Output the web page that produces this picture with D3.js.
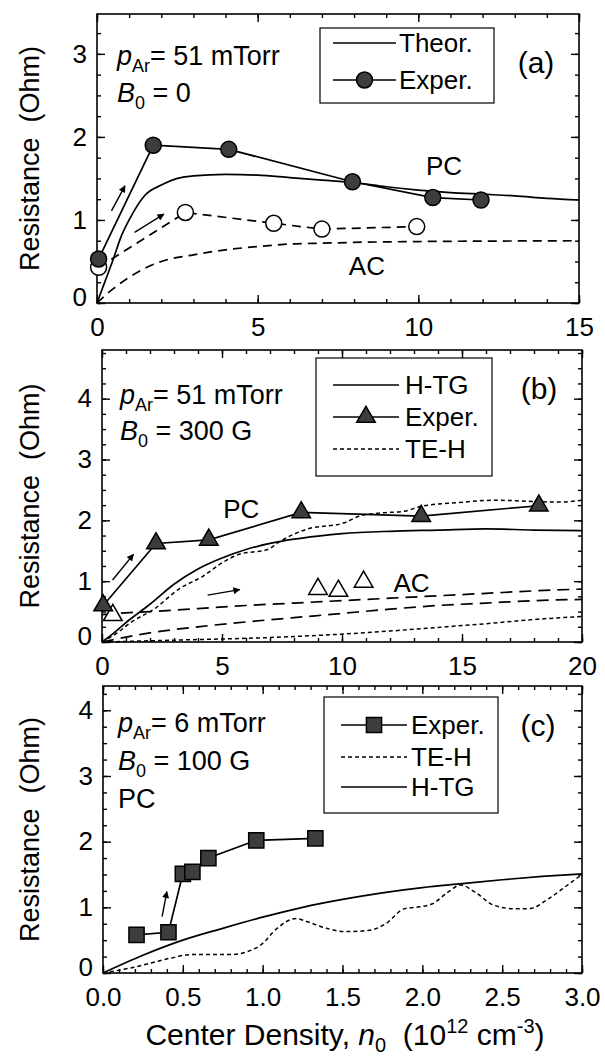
<!DOCTYPE html>
<html><head><meta charset="utf-8">
<script src="https://cdn.jsdelivr.net/npm/d3@7"></script>
<style>
body{margin:0;background:#fff}
svg{display:block}
text{font-family:Arial,"Liberation Sans",sans-serif;fill:#000}
</style>
</head><body>
<svg id="chart" width="605" height="1057"></svg>
<script>
// ---------------- DATA ----------------
// Panel (a): p_Ar = 51 mTorr, B0 = 0
const aXTicks = [0, 5, 10, 15];
const aYTicks = [0, 1, 2, 3];
const aExpPC_x = [0.05, 1.75, 4.1, 7.95, 10.45, 11.95];
const aExpPC_y = [0.53, 1.90, 1.85, 1.46, 1.27, 1.24];
const aExpAC_x = [0.05, 2.75, 5.5, 7.0, 9.95];
const aExpAC_y = [0.43, 1.09, 0.96, 0.89, 0.92];
const aThPC_x = [0, 0.25, 0.5, 0.75, 1, 1.5, 2, 2.5, 3, 4, 5, 6, 7, 8, 9, 10, 11, 12, 13, 14, 15];
const aThPC_y = [0, 0.26, 0.52, 0.80, 1.00, 1.30, 1.42, 1.50, 1.53, 1.55, 1.54, 1.51, 1.48, 1.45, 1.40, 1.36, 1.33, 1.31, 1.29, 1.26, 1.24];
const aThAC_x = [0, 0.25, 0.5, 1, 1.5, 2, 3, 4, 5, 6, 7, 8, 10, 12, 15];
const aThAC_y = [0, 0.09, 0.17, 0.31, 0.42, 0.50, 0.58, 0.64, 0.68, 0.71, 0.72, 0.73, 0.74, 0.745, 0.75];

// Panel (b): p_Ar = 51 mTorr, B0 = 300 G
const bXTicks = [0, 5, 10, 15, 20];
const bYTicks = [0, 1, 2, 3, 4];
const bExpPC_x = [0.05, 2.25, 4.45, 8.3, 13.3, 18.2];
const bExpPC_y = [0.60, 1.62, 1.68, 2.13, 2.07, 2.24];
const bExpAC_x = [0.45, 9.0, 9.85, 10.9];
const bExpAC_y = [0.44, 0.87, 0.84, 0.99];
const bHtgPC_x = [0, 0.5, 1, 2, 3, 4, 5, 6, 7, 8, 9, 10, 12, 14, 16, 18, 20];
const bHtgPC_y = [0, 0.15, 0.32, 0.62, 0.95, 1.20, 1.38, 1.52, 1.62, 1.69, 1.74, 1.78, 1.82, 1.84, 1.86, 1.84, 1.83];
const bTehPC_x = [0, 0.6, 1.2, 2.2, 3.2, 4.2, 5.0, 5.7, 6.9, 7.4, 8.5, 10.1, 10.8, 11.6, 12.6, 13.3, 14.8, 16.4, 18.0, 19.0, 20];
const bTehPC_y = [0, 0.14, 0.32, 0.55, 0.87, 1.08, 1.30, 1.44, 1.52, 1.65, 1.85, 1.96, 2.08, 2.12, 2.15, 2.23, 2.29, 2.33, 2.31, 2.30, 2.33];
const bHtgAC_x = [0, 1, 2, 4, 6, 8, 10, 12, 14, 16, 18, 20];
const bHtgAC_y = [0.45, 0.48, 0.50, 0.55, 0.60, 0.64, 0.68, 0.72, 0.76, 0.80, 0.84, 0.87];
const bHtgAC2_x = [0, 1, 2, 4, 6, 8, 10, 12, 14, 16, 18, 20];
const bHtgAC2_y = [0, 0.08, 0.15, 0.25, 0.33, 0.40, 0.47, 0.54, 0.60, 0.64, 0.68, 0.70];
const bTehAC_x = [0, 1, 2, 4, 6, 8, 10, 12, 14, 16, 18, 20];
const bTehAC_y = [0, 0.01, 0.02, 0.04, 0.06, 0.09, 0.13, 0.18, 0.24, 0.30, 0.37, 0.42];

// Panel (c): p_Ar = 6 mTorr, B0 = 100 G, PC
const cXTicks = [0, 0.5, 1.0, 1.5, 2.0, 2.5, 3.0];
const cYTicks = [0, 1, 2, 3, 4];
const cExp_x = [0.21, 0.41, 0.50, 0.56, 0.66, 0.96, 1.33];
const cExp_y = [0.58, 0.62, 1.51, 1.54, 1.75, 2.02, 2.05];
const cHtg_x = [0, 0.25, 0.5, 0.75, 1.0, 1.25, 1.5, 1.75, 2.0, 2.25, 2.5, 2.75, 3.0];
const cHtg_y = [0, 0.27, 0.50, 0.68, 0.85, 1.00, 1.12, 1.22, 1.30, 1.36, 1.42, 1.47, 1.51];
const cTeh_x = [0, 0.18, 0.43, 0.55, 0.8, 0.91, 0.99, 1.09, 1.21, 1.28, 1.4, 1.52, 1.67, 1.77, 1.89, 1.96, 2.06, 2.16, 2.24, 2.33, 2.45, 2.57, 2.67, 2.79, 2.91, 3.0];
const cTeh_y = [0, 0.08, 0.23, 0.28, 0.28, 0.33, 0.43, 0.68, 0.83, 0.78, 0.68, 0.63, 0.65, 0.75, 0.98, 1.00, 1.05, 1.23, 1.34, 1.23, 1.03, 0.98, 0.98, 1.13, 1.34, 1.50];

// ---------------- LAYOUT ----------------
const svg = d3.select("#chart");
const FONT = 26;
const zip = (xs, ys) => xs.map((x, i) => [x, ys[i]]);

const panels = {
  a: {l: 97, r: 579, t: 14, b: 303, xd: [0, 15], yd: [0, 3.48], xt: aXTicks, yt: aYTicks, xMinor: 1, yMinor: 0.25, fmt: d3.format("d")},
  b: {l: 102, r: 582, t: 350, b: 642, xd: [0, 20], yd: [0, 4.8], xt: bXTicks, yt: bYTicks, xMinor: 1, yMinor: 0.25, fmt: d3.format("d")},
  c: {l: 103, r: 582, t: 686, b: 973, xd: [0, 3], yd: [0, 4.37], xt: cXTicks, yt: cYTicks, xMinor: 0.1, yMinor: 0.25, fmt: d3.format(".1f")}
};

// arrow marker
const defs = svg.append("defs");
defs.append("marker").attr("id", "ah").attr("viewBox", "0 0 10 10")
  .attr("refX", 9).attr("refY", 5).attr("markerWidth", 9).attr("markerHeight", 7)
  .attr("markerUnits", "userSpaceOnUse").attr("orient", "auto")
  .append("path").attr("d", "M0,0 L10,5 L0,10 z").attr("fill", "#000");

function setupPanel(p) {
  p.x = d3.scaleLinear().domain(p.xd).range([p.l, p.r]);
  p.y = d3.scaleLinear().domain(p.yd).range([p.b, p.t]);
  const g = svg.append("g");
  p.g = g;
  const xMinorV = d3.range(p.xd[0], p.xd[1] + 1e-9, p.xMinor);
  const yMinorV = d3.range(p.yd[0], p.yd[1] + 1e-9, p.yMinor);
  const clean = s => s.select(".domain").remove();
  // minor ticks
  g.append("g").attr("transform", `translate(0,${p.b})`).call(d3.axisBottom(p.x).tickValues(xMinorV).tickSize(-4).tickFormat("")).call(clean);
  g.append("g").attr("transform", `translate(0,${p.t})`).call(d3.axisTop(p.x).tickValues(xMinorV).tickSize(-4).tickFormat("")).call(clean);
  g.append("g").attr("transform", `translate(${p.l},0)`).call(d3.axisLeft(p.y).tickValues(yMinorV).tickSize(-4).tickFormat("")).call(clean);
  g.append("g").attr("transform", `translate(${p.r},0)`).call(d3.axisRight(p.y).tickValues(yMinorV).tickSize(-4).tickFormat("")).call(clean);
  // major ticks
  const xb = g.append("g").attr("transform", `translate(0,${p.b})`).call(d3.axisBottom(p.x).tickValues(p.xt).tickSize(-8).tickPadding(15).tickFormat(p.fmt)).call(clean);
  g.append("g").attr("transform", `translate(0,${p.t})`).call(d3.axisTop(p.x).tickValues(p.xt).tickSize(-8).tickFormat("")).call(clean);
  const yl = g.append("g").attr("transform", `translate(${p.l},0)`).call(d3.axisLeft(p.y).tickValues(p.yt).tickSize(-8).tickPadding(10).tickFormat(d3.format("d"))).call(clean);
  g.append("g").attr("transform", `translate(${p.r},0)`).call(d3.axisRight(p.y).tickValues(p.yt).tickSize(-8).tickFormat("")).call(clean);
  g.selectAll(".tick line").attr("stroke", "#000").attr("stroke-width", 1.4);
  [xb, yl].forEach(a => a.selectAll("text").attr("font-size", FONT).attr("font-family", "Arial, 'Liberation Sans', sans-serif").attr("fill", "#000"));
  // lift the y "0" label a little so it clears the x labels
  yl.selectAll(".tick").filter(d => d === 0).select("text").attr("dy", "0.1em");
  // frame
  g.append("rect").attr("x", p.l).attr("y", p.t).attr("width", p.r - p.l).attr("height", p.b - p.t)
    .attr("fill", "none").attr("stroke", "#000").attr("stroke-width", 1.6);
  // y title
  g.append("text").attr("transform", `translate(30,${(p.t + p.b) / 2}) rotate(-90)`)
    .attr("text-anchor", "middle").attr("dy", "0.35em").attr("font-size", 27)
    .style("white-space", "pre").text("Resistance  (Ohm)");
  return p;
}

function drawLine(p, pts, opts) {
  const line = d3.line().x(d => p.x(d[0])).y(d => p.y(d[1])).curve(opts.curve || d3.curveLinear);
  p.g.append("path").datum(pts).attr("d", line).attr("fill", "none")
    .attr("stroke", "#000").attr("stroke-width", opts.w || 1.7)
    .attr("stroke-dasharray", opts.dash || null);
}
function drawArrow(p, x0, y0, x1, y1) {
  p.g.append("line").attr("x1", p.x(x0)).attr("y1", p.y(y0)).attr("x2", p.x(x1)).attr("y2", p.y(y1))
    .attr("stroke", "#000").attr("stroke-width", 1.4).attr("marker-end", "url(#ah)");
}
function circles(p, pts, filled) {
  p.g.selectAll(null).data(pts).enter().append("circle")
    .attr("cx", d => p.x(d[0])).attr("cy", d => p.y(d[1])).attr("r", 8)
    .attr("fill", filled ? "#3d3d3d" : "#fff").attr("stroke", "#000").attr("stroke-width", 1.5);
}
function symbols(p, pts, type, size, filled) {
  p.g.selectAll(null).data(pts).enter().append("path")
    .attr("d", d3.symbol().type(type).size(size))
    .attr("transform", d => `translate(${p.x(d[0])},${p.y(d[1])})`)
    .attr("fill", filled ? "#3d3d3d" : "#fff").attr("stroke", "#000").attr("stroke-width", 1.5);
}
function label(p, x, y, txt, size) {
  p.g.append("text").attr("x", p.x(x)).attr("y", p.y(y)).attr("dy", "0.35em")
    .attr("text-anchor", "middle").attr("font-size", size || FONT).text(txt);
}
function condText(g, x, y, parts) {
  const t = g.append("text").attr("x", x).attr("y", y).attr("font-size", 27);
  parts.forEach(pt => {
    const s = t.append("tspan").text(pt.t);
    if (pt.it) s.attr("font-style", "italic");
    if (pt.dy) s.attr("dy", pt.dy);
    if (pt.fs) s.attr("font-size", pt.fs);
  });
}
function legendBox(g, x0, y0, x1, y1, rows) {
  g.append("rect").attr("x", x0).attr("y", y0).attr("width", x1 - x0).attr("height", y1 - y0)
    .attr("fill", "#fff").attr("stroke", "#000").attr("stroke-width", 1.2);
  rows.forEach(r => {
    g.append("line").attr("x1", r.lx0).attr("x2", r.lx1).attr("y1", r.y).attr("y2", r.y)
      .attr("stroke", "#000").attr("stroke-width", 1.7).attr("stroke-dasharray", r.dash || null);
    if (r.sym) {
      g.append("path").attr("d", d3.symbol().type(r.sym).size(r.size))
        .attr("transform", `translate(${(r.lx0 + r.lx1) / 2},${r.y})`)
        .attr("fill", "#3d3d3d").attr("stroke", "#000").attr("stroke-width", 1.5);
    }
    g.append("text").attr("x", r.tx).attr("y", r.y).attr("dy", "0.35em").attr("font-size", FONT).text(r.label);
  });
}
const subAr = (rest) => [{t: "p", it: true}, {t: "Ar", fs: 18, dy: 7}, {t: rest, dy: -7}];
const subB0 = (rest) => [{t: "B", it: true}, {t: "0", fs: 18, dy: 7}, {t: rest, dy: -7}];

// ---------------- PANEL A ----------------
const A = setupPanel(panels.a);
drawLine(A, zip(aThAC_x, aThAC_y), {curve: d3.curveMonotoneX, dash: "9,6"});
drawLine(A, zip(aThPC_x, aThPC_y), {curve: d3.curveMonotoneX});
drawLine(A, zip(aExpAC_x, aExpAC_y), {dash: "9,6"});
drawLine(A, zip(aExpPC_x, aExpPC_y), {});
circles(A, zip(aExpAC_x, aExpAC_y), false);
circles(A, zip(aExpPC_x, aExpPC_y), true);
drawArrow(A, 0.45, 1.11, 0.87, 1.41);
drawArrow(A, 1.17, 0.85, 2.08, 1.07);
label(A, 10.8, 1.65, "PC");
label(A, 8.4, 0.45, "AC");
condText(A.g, 117, 65, subAr("= 51 mTorr"));
condText(A.g, 117, 102, subB0(" = 0"));
legendBox(A.g, 320, 28, 494, 103, [
  {y: 43, lx0: 333, lx1: 396, tx: 399, label: "Theor."},
  {y: 80, lx0: 333, lx1: 396, tx: 399, label: "Exper.", sym: d3.symbolCircle, size: 200}
]);
A.g.append("text").attr("x", 536).attr("y", 73).attr("text-anchor", "middle").attr("font-size", 30).text("(a)");

// ---------------- PANEL B ----------------
const B = setupPanel(panels.b);
drawLine(B, zip(bTehAC_x, bTehAC_y), {curve: d3.curveMonotoneX, dash: "4,3", w: 1.5});
drawLine(B, zip(bHtgAC2_x, bHtgAC2_y), {curve: d3.curveMonotoneX, dash: "12,7"});
drawLine(B, zip(bHtgAC_x, bHtgAC_y), {curve: d3.curveMonotoneX, dash: "12,7"});
drawLine(B, zip(bTehPC_x, bTehPC_y), {curve: d3.curveMonotoneX, dash: "4,3", w: 1.5});
drawLine(B, zip(bHtgPC_x, bHtgPC_y), {curve: d3.curveMonotoneX});
drawLine(B, zip(bExpPC_x, bExpPC_y), {});
symbols(B, zip(bExpAC_x, bExpAC_y), d3.symbolTriangle, 150, false);
symbols(B, zip(bExpPC_x, bExpPC_y), d3.symbolTriangle, 150, true);
drawArrow(B, 0.44, 1.02, 1.31, 1.44);
drawArrow(B, 4.4, 0.77, 5.74, 0.86);
label(B, 5.8, 2.18, "PC");
label(B, 12.9, 0.97, "AC");
condText(B.g, 120, 404, subAr("= 51 mTorr"));
condText(B.g, 120, 440, subB0(" = 300 G"));
legendBox(B.g, 316, 358, 492, 476, [
  {y: 385, lx0: 333, lx1: 399, tx: 405, label: "H-TG"},
  {y: 417, lx0: 333, lx1: 399, tx: 405, label: "Exper.", sym: d3.symbolTriangle, size: 150},
  {y: 449, lx0: 333, lx1: 399, tx: 405, label: "TE-H", dash: "4,3"}
]);
B.g.append("text").attr("x", 539).attr("y", 399).attr("text-anchor", "middle").attr("font-size", 30).text("(b)");

// ---------------- PANEL C ----------------
const C = setupPanel(panels.c);
drawLine(C, zip(cTeh_x, cTeh_y), {curve: d3.curveMonotoneX, dash: "4,3", w: 1.5});
drawLine(C, zip(cHtg_x, cHtg_y), {curve: d3.curveMonotoneX});
drawLine(C, zip(cExp_x, cExp_y), {});
symbols(C, zip(cExp_x, cExp_y), d3.symbolSquare, 230, true);
drawArrow(C, 0.37, 0.86, 0.40, 1.24);
condText(C.g, 118, 732, subAr("= 6 mTorr"));
condText(C.g, 118, 770, subB0(" = 100 G"));
C.g.append("text").attr("x", 118).attr("y", 808).attr("font-size", 27).text("PC");
legendBox(C.g, 324, 697, 498, 813, [
  {y: 725, lx0: 341, lx1: 407, tx: 411, label: "Exper.", sym: d3.symbolSquare, size: 230},
  {y: 757, lx0: 341, lx1: 407, tx: 411, label: "TE-H", dash: "4,3"},
  {y: 787, lx0: 341, lx1: 407, tx: 411, label: "H-TG"}
]);
C.g.append("text").attr("x", 538).attr("y", 736).attr("text-anchor", "middle").attr("font-size", 30).text("(c)");

// ---------------- X TITLE ----------------
const xt = svg.append("text").attr("x", 345).attr("y", 1045).attr("text-anchor", "middle").attr("font-size", 30).style("white-space", "pre");
xt.append("tspan").text("Center Density, ");
xt.append("tspan").attr("font-style", "italic").text("n");
xt.append("tspan").attr("font-size", 20).attr("dy", 7).text("0");
xt.append("tspan").attr("dy", -7).text("  (10");
xt.append("tspan").attr("font-size", 20).attr("dy", -12).text("12");
xt.append("tspan").attr("dy", 12).text(" cm");
xt.append("tspan").attr("font-size", 20).attr("dy", -12).text("-3");
xt.append("tspan").attr("dy", 12).text(")");
</script>
</body></html>
